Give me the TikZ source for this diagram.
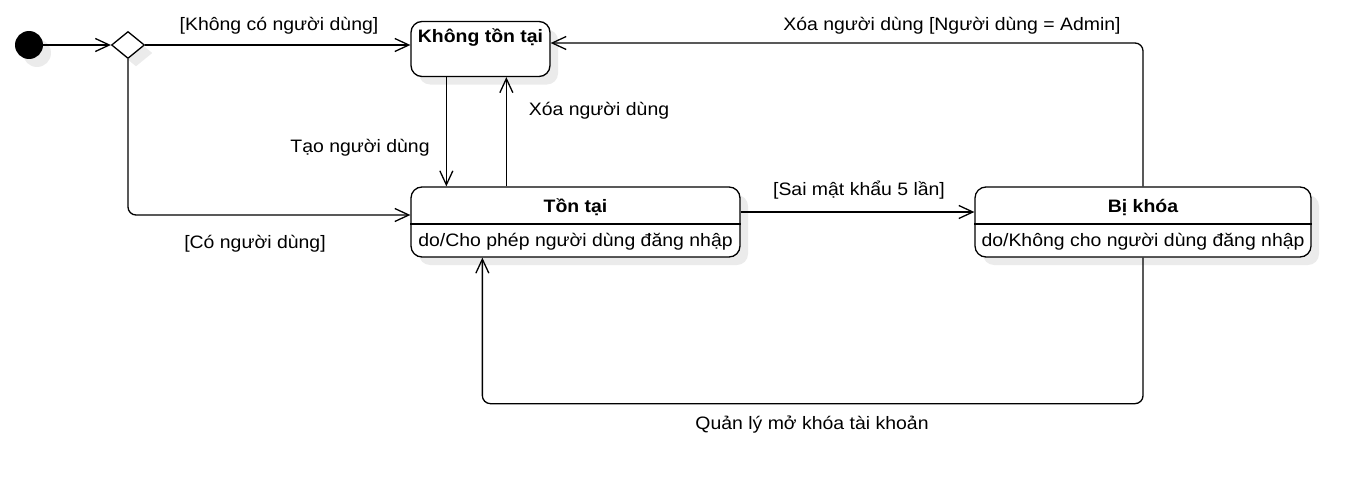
\documentclass[tikz,border=0pt]{standalone}
\usepackage{fontspec}
\setmainfont{Liberation Sans}
\usetikzlibrary{arrows.meta,shapes.geometric,shadows,calc}
\begin{document}
\begin{tikzpicture}[x=1pt,y=-1pt,
  every node/.style={font=\fontsize{18}{22}\selectfont, inner sep=0pt},
  shad/.style={general shadow={fill=black!8, shadow xshift=8pt, shadow yshift=-8pt}},
  statebox/.style={draw, line width=1.3pt, rounded corners=11pt, fill=white, shad},
  lbl/.style={anchor=base, xscale=1.08},
  ttl/.style={anchor=base, xscale=1.08, font=\fontsize{18}{22}\selectfont\bfseries},
  conn/.style={draw, line width=1.3pt, -{Straight Barb[length=14pt,width=13pt]}, rounded corners=8pt}
]
\useasboundingbox (0,0) rectangle (1372,495);

% initial and decision
\node[circle, fill=black, minimum size=28pt, shad] (init) at (29,45) {};
\node[diamond, draw, fill=white, line width=1.3pt, minimum width=33pt, minimum height=27pt, aspect=1.25, shad] (dia) at (128,45) {};

% states
\node[statebox, minimum width=139pt, minimum height=55pt] (kt) at (480.5,49) {};
\node[ttl] (ktT) at (480.5,43) {Không tồn tại};

\node[statebox, minimum width=329pt, minimum height=70pt] (tt) at (575.5,222) {};
\draw[line width=1.3pt] ($(tt.north west)+(0,37.5)$) -- ($(tt.north east)+(0,37.5)$);
\node[ttl] (ttT) at (575.5,212) {Tồn tại};
\node[lbl] (ttB) at (575.5,246.5) {do/Cho phép người dùng đăng nhập};

\node[statebox, minimum width=336pt, minimum height=70pt] (bk) at (1143,222) {};
\draw[line width=1.3pt] ($(bk.north west)+(0,37.5)$) -- ($(bk.north east)+(0,37.5)$);
\node[ttl] (bkT) at (1143,212) {Bị khóa};
\node[lbl] (bkB) at (1143,246.5) {do/Không cho người dùng đăng nhập};

% connectors
\draw[conn] (init) -- (dia.west);
\draw[conn] (dia.east) -- (dia.east -| kt.west);
\draw[conn] (dia.south) |- ([yshift=7pt]tt.west);
\draw[conn] ($(kt.south west)+(36,0)$) -- ($(tt.north west)+(36,0)$);
\draw[conn] ($(tt.north west)+(96,0)$) -- ($(kt.south west)+(96,0)$);
\draw[conn] ([yshift=10pt]tt.east) -- ([yshift=10pt]tt.east -| bk.west);
\draw[conn] (bk.north) |- ([yshift=6pt]kt.east);
\draw[conn] (bk.south) |- ($(tt.south west)+(72,146)$) -- ($(tt.south west)+(72,0)$);

% labels
\node[lbl] (l1) at (279,30.5) {[Không có người dùng]};
\node[lbl] (l2) at (360,152) {Tạo người dùng};
\node[lbl] (l3) at (255,248) {[Có người dùng]};
\node[lbl] (l4) at (599,115) {Xóa người dùng};
\node[lbl] (l5) at (859,195) {[Sai mật khẩu 5 lần]};
\node[lbl] (l6) at (952,31) {Xóa người dùng [Người dùng = Admin]};
\node[lbl] (l7) at (812,429) {Quản lý mở khóa tài khoản};
\end{tikzpicture}
\end{document}
